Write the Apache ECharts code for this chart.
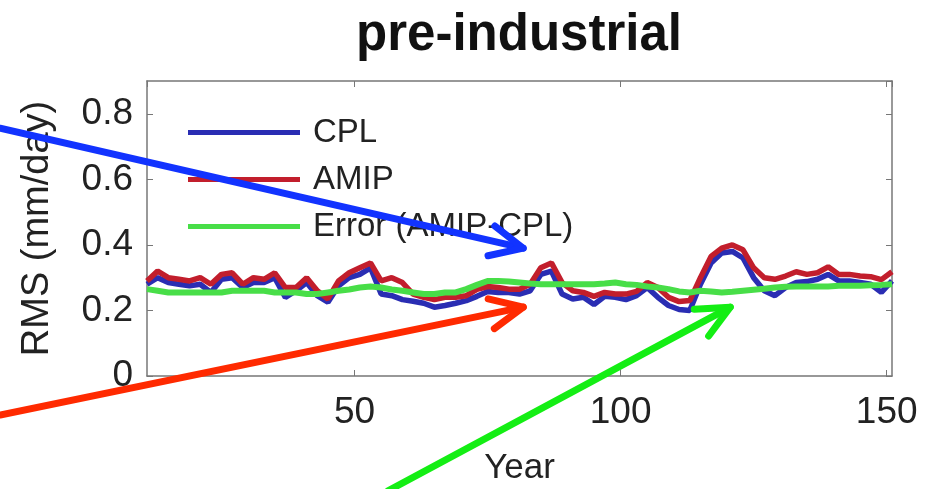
<!DOCTYPE html>
<html>
<head>
<meta charset="utf-8">
<script src="https://cdn.jsdelivr.net/npm/echarts@6/dist/echarts.min.js"></script>
<style>
html, body { margin: 0; padding: 0; background: #fff; }
#chart { width: 932px; height: 489px; }
</style>
</head>
<body>
<div id="chart"></div>
<script>
// years (running window) and RMS values
var years = [11, 13, 15, 17, 19, 21, 23, 25, 27, 29, 31, 33, 35, 37, 39, 41, 43, 45, 47, 49,
    51, 53, 55, 57, 59, 61, 63, 65, 67, 69, 71, 73, 75, 77, 79, 81, 83, 85, 87, 89,
    91, 93, 95, 97, 99, 101, 103, 105, 107, 109, 111, 113, 115, 117, 119, 121, 123, 125, 127, 129,
    131, 133, 135, 137, 139, 141, 143, 145, 147, 149, 151];
var cpl = [0.28, 0.30, 0.285, 0.28, 0.275, 0.28, 0.255, 0.295, 0.30, 0.27, 0.285, 0.285, 0.30, 0.24, 0.26, 0.285, 0.245, 0.225, 0.275, 0.30,
    0.31, 0.33, 0.25, 0.245, 0.233, 0.228, 0.222, 0.21, 0.215, 0.222, 0.23, 0.243, 0.258, 0.255, 0.255, 0.25, 0.26, 0.31, 0.32, 0.25,
    0.235, 0.24, 0.218, 0.243, 0.24, 0.233, 0.245, 0.27, 0.24, 0.215, 0.203, 0.20, 0.28, 0.345, 0.375, 0.38, 0.36, 0.30, 0.26, 0.245,
    0.27, 0.285, 0.288, 0.295, 0.31, 0.29, 0.29, 0.285, 0.28, 0.255, 0.29];
var amip = [0.29, 0.32, 0.30, 0.295, 0.29, 0.30, 0.28, 0.31, 0.315, 0.28, 0.30, 0.295, 0.315, 0.27, 0.27, 0.30, 0.26, 0.235, 0.29, 0.315,
    0.33, 0.345, 0.29, 0.30, 0.285, 0.25, 0.24, 0.233, 0.24, 0.24, 0.245, 0.264, 0.273, 0.27, 0.265, 0.265, 0.28, 0.33, 0.345, 0.285,
    0.26, 0.255, 0.243, 0.255, 0.25, 0.25, 0.258, 0.285, 0.27, 0.24, 0.227, 0.23, 0.30, 0.365, 0.39, 0.40, 0.385, 0.33, 0.30, 0.295,
    0.305, 0.318, 0.31, 0.315, 0.333, 0.31, 0.31, 0.305, 0.303, 0.294, 0.318];
var errAC = [0.265, 0.26, 0.255, 0.255, 0.255, 0.255, 0.255, 0.255, 0.26, 0.26, 0.26, 0.26, 0.255, 0.255, 0.255, 0.25, 0.25, 0.255, 0.26, 0.264,
    0.27, 0.273, 0.27, 0.264, 0.26, 0.255, 0.25, 0.25, 0.255, 0.255, 0.265, 0.278, 0.29, 0.29, 0.288, 0.285, 0.282, 0.28, 0.28, 0.28,
    0.28, 0.28, 0.28, 0.282, 0.285, 0.28, 0.278, 0.273, 0.27, 0.265, 0.258, 0.255, 0.26, 0.258, 0.255, 0.257, 0.26, 0.263, 0.266, 0.27,
    0.272, 0.273, 0.273, 0.273, 0.273, 0.275, 0.275, 0.275, 0.277, 0.278, 0.28];
var seriesNames = ['CPL', 'AMIP', 'Error (AMIP-CPL)'];

// annotation arrows, in [year, RMS] units
var arrows = [
    { color: '#1233ff', from: [-16.6, 0.756], to: [81.7, 0.39] },
    { color: '#ff2a00', from: [-16.6, -0.119], to: [81.7, 0.21] },
    { color: '#14ee14', from: [56.3, -0.35], to: [120.6, 0.21] }
];

function pairs(vals) {
    return years.map(function (y, i) { return [y, vals[i]]; });
}

var chart = echarts.init(document.getElementById('chart'));
var axisCol = '#777';
var font = 'Liberation Sans, Arial, sans-serif';

function frameAxis(extra) {
    var ax = {
        type: 'value',
        axisLine: { show: true, onZero: false, lineStyle: { color: axisCol, width: 1.5 } },
        axisTick: { show: true, inside: true, length: 6, lineStyle: { color: axisCol } },
        splitLine: { show: false }
    };
    for (var k in extra) ax[k] = extra[k];
    return ax;
}

chart.setOption({
    animation: false,
    textStyle: { fontFamily: font },
    title: {
        text: 'pre-industrial',
        left: 514,
        textAlign: 'center',
        top: 5,
        textStyle: { fontSize: 51, fontWeight: 'bold', color: '#111', fontFamily: font }
    },
    legend: {
        orient: 'vertical',
        left: 183,
        top: 111,
        icon: 'rect',
        itemWidth: 112,
        itemHeight: 5,
        itemGap: 14,
        data: seriesNames,
        textStyle: { fontSize: 33, color: '#222', lineHeight: 32, padding: [0, 0, 0, 8] }
    },
    grid: { left: 147, right: 40, top: 81, bottom: 113, containLabel: false, outerBoundsMode: 'none' },
    xAxis: [
        frameAxis({
            min: 11, max: 151, splitNumber: 3,
            name: 'Year', nameLocation: 'middle', nameGap: 75,
            nameTextStyle: { fontSize: 35, color: '#222' },
            axisLabel: { fontSize: 37, color: '#222', margin: 18, showMinLabel: false, showMaxLabel: false }
        }),
        frameAxis({
            min: 11, max: 151, splitNumber: 3, position: 'top',
            axisLabel: { show: false }
        })
    ],
    yAxis: [
        frameAxis({
            min: 0, max: 0.9, interval: 0.2,
            name: 'RMS (mm/day)', nameLocation: 'middle', nameGap: 90, nameRotate: 90,
            nameTextStyle: { fontSize: 38, color: '#222' },
            axisLabel: { fontSize: 37, color: '#222', margin: 14, showMaxLabel: false }
        }),
        frameAxis({
            min: 0, max: 0.9, interval: 0.2, position: 'right',
            axisLabel: { show: false }
        })
    ],
    series: [{
        name: seriesNames[0], type: 'line', data: pairs(cpl), showSymbol: false,
        color: '#2a2db3', lineStyle: { width: 5.5, color: '#2a2db3' }
    }, {
        name: seriesNames[1], type: 'line', data: pairs(amip), showSymbol: false,
        color: '#c21e2c', lineStyle: { width: 5.5, color: '#c21e2c' }
    }, {
        name: seriesNames[2], type: 'line', data: pairs(errAC), showSymbol: false,
        color: '#48de48', lineStyle: { width: 6, color: '#48de48' }
    }]
});

// draw the arrows on top, placed through the chart's own axes
var graphics = [];
arrows.forEach(function (a) {
    var p0 = chart.convertToPixel({ gridIndex: 0 }, a.from);
    var p1 = chart.convertToPixel({ gridIndex: 0 }, a.to);
    var ang = Math.atan2(p1[1] - p0[1], p1[0] - p0[0]);
    var len = 36, spread = 25 * Math.PI / 180;
    var h1 = [p1[0] + len * Math.cos(ang + Math.PI - spread), p1[1] + len * Math.sin(ang + Math.PI - spread)];
    var h2 = [p1[0] + len * Math.cos(ang + Math.PI + spread), p1[1] + len * Math.sin(ang + Math.PI + spread)];
    var st = { stroke: a.color, lineWidth: 7, lineCap: 'round', lineJoin: 'round', fill: null };
    graphics.push({ type: 'line', z: 100, shape: { x1: p0[0], y1: p0[1], x2: p1[0], y2: p1[1] }, style: st });
    graphics.push({ type: 'polyline', z: 100, shape: { points: [h1, p1, h2] }, style: st });
});
chart.setOption({ graphic: graphics });
</script>
</body>
</html>
